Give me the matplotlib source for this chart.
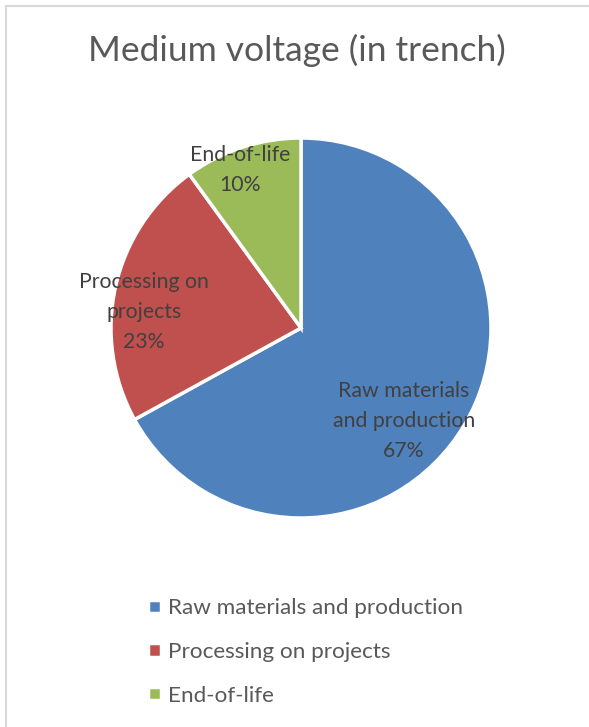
import matplotlib
matplotlib.use("Agg")
import matplotlib.pyplot as plt
from matplotlib.patches import Rectangle

# données du graphique
categories = ["Raw materials and production", "Processing on projects", "End-of-life"]
shares = [67, 23, 10]
slice_labels = ["Raw materials\nand production\n67%", "Processing on\nprojects\n23%", "End-of-life\n10%"]
colors = ["#4F81BD", "#C0504D", "#9BBB59"]

plt.rcParams["font.family"] = ["Lato", "DejaVu Sans"]

W, H = 589, 727
fig = plt.figure(figsize=(W / 100, H / 100), dpi=100)

# cadre gris clair (coupé à droite et en bas)
fig.patches.append(Rectangle((6 / W, -0.1), 1.2, 1 - 6 / H + 0.1, transform=fig.transFigure,
                             facecolor="none", edgecolor="#D9D9D9", linewidth=1.5))

fig.text(297 / W, 1 - 50 / H, "Medium voltage (in trench)", ha="center", va="center",
         fontsize=25.5, color="#595959")

# axe du camembert : centre (301, 328), rayon 190 px
cx, cy, r = 301, 328, 190
ax = fig.add_axes([(cx - r) / W, 1 - (cy + r) / H, 2 * r / W, 2 * r / H])
wedges, _ = ax.pie(shares, colors=colors, startangle=90, counterclock=False,
                   wedgeprops=dict(edgecolor="white", linewidth=2.5))
ax.set_xlim(-1, 1)
ax.set_ylim(-1, 1)
ax.set_aspect("equal")
ax.axis("off")

# positions des étiquettes (en rayons)
label_pos = [(0.542, -0.489), (-0.826, 0.084), (-0.321, 0.832)]
for (x, y), txt in zip(label_pos, slice_labels):
    ax.text(x, y, txt, ha="center", va="center", fontsize=15.3, color="#404040",
            linespacing=1.6)

leg = fig.legend(wedges, categories, loc="upper left", bbox_to_anchor=(128 / W, 1 - 578 / H),
                 frameon=False, fontsize=16.2, handlelength=0.55, handleheight=0.55,
                 handletextpad=0.35, labelspacing=1.05, labelcolor="#595959")

fig.savefig("out.png", dpi=100)
